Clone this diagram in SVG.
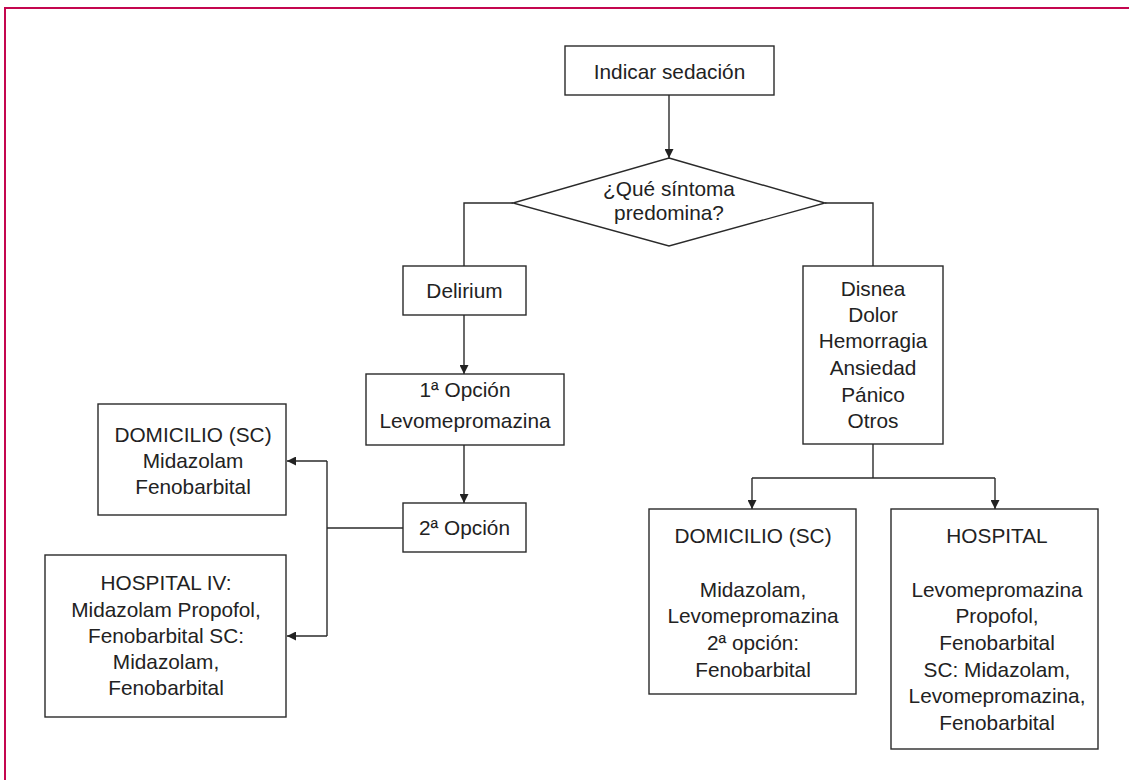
<svg xmlns="http://www.w3.org/2000/svg" width="1129" height="780" viewBox="0 0 1129 780">
<style>
.box{fill:#fff;stroke:#2a2a2a;stroke-width:1.4}
.ln{fill:none;stroke:#2a2a2a;stroke-width:1.4}
.t{font-family:"Liberation Sans",Arial,sans-serif;font-size:20.8px;fill:#222;text-anchor:middle}
.frame{fill:none;stroke:#c4064f;stroke-width:2}
</style>
<defs>
<marker id="ah" viewBox="0 0 10 10" refX="10" refY="5" markerWidth="9" markerHeight="9" markerUnits="userSpaceOnUse" orient="auto">
<path d="M0,0 L10,5 L0,10 Z" fill="#222"/>
</marker>
</defs>
<rect width="1129" height="780" fill="#fff"/>
<path class="frame" d="M5,780 V8 H1129"/>
<g id="connectors">
<line class="ln" x1="669" y1="95" x2="669" y2="158" marker-end="url(#ah)"/>
<polyline class="ln" points="513,203 464,203 464,266"/>
<polyline class="ln" points="825,203 873,203 873,266"/>
<line class="ln" x1="464" y1="315" x2="464" y2="374" marker-end="url(#ah)"/>
<line class="ln" x1="464" y1="445" x2="464" y2="503" marker-end="url(#ah)"/>
<line class="ln" x1="403" y1="528" x2="327" y2="528"/>
<line class="ln" x1="327" y1="461" x2="327" y2="636"/>
<line class="ln" x1="327" y1="461" x2="287" y2="461" marker-end="url(#ah)"/>
<line class="ln" x1="327" y1="636" x2="287" y2="636" marker-end="url(#ah)"/>
<line class="ln" x1="873" y1="444" x2="873" y2="478"/>
<line class="ln" x1="752" y1="478" x2="995" y2="478"/>
<line class="ln" x1="752" y1="478" x2="752" y2="509" marker-end="url(#ah)"/>
<line class="ln" x1="995" y1="478" x2="995" y2="509" marker-end="url(#ah)"/>
</g>
<g id="n-indicar">
<rect class="box" x="565" y="46" width="209" height="49"/>
<text class="t" x="669.5" y="79">Indicar sedación</text>
</g>
<g id="n-sintoma">
<polygon class="box" points="669,158 825,203 669,246 513,203"/>
<text class="t" x="669" y="196">¿Qué síntoma</text>
<text class="t" x="669" y="220">predomina?</text>
</g>
<g id="n-delirium">
<rect class="box" x="403" y="266" width="123" height="49"/>
<text class="t" x="464.5" y="298">Delirium</text>
</g>
<g id="n-sintomas">
<rect class="box" x="803" y="266" width="140" height="178"/>
<text class="t" x="873" y="296">Disnea</text>
<text class="t" x="873" y="322">Dolor</text>
<text class="t" x="873" y="348">Hemorragia</text>
<text class="t" x="873" y="375">Ansiedad</text>
<text class="t" x="873" y="402">Pánico</text>
<text class="t" x="873" y="428">Otros</text>
</g>
<g id="n-opcion1">
<rect class="box" x="366" y="374" width="198" height="71"/>
<text class="t" x="465" y="397">1ª Opción</text>
<text class="t" x="465" y="428">Levomepromazina</text>
</g>
<g id="n-opcion2">
<rect class="box" x="403" y="503" width="123" height="49"/>
<text class="t" x="464.5" y="535">2ª Opción</text>
</g>
<g id="n-domicilio-left">
<rect class="box" x="98" y="404" width="188" height="111"/>
<text class="t" x="193" y="442">DOMICILIO (SC)</text>
<text class="t" x="193" y="468">Midazolam</text>
<text class="t" x="193" y="494">Fenobarbital</text>
</g>
<g id="n-hospital-left">
<rect class="box" x="45" y="555" width="241" height="162"/>
<text class="t" x="166" y="590">HOSPITAL IV:</text>
<text class="t" x="166" y="617">Midazolam  Propofol,</text>
<text class="t" x="166" y="643">Fenobarbital SC:</text>
<text class="t" x="166" y="669">Midazolam,</text>
<text class="t" x="166" y="695">Fenobarbital</text>
</g>
<g id="n-domicilio-right">
<rect class="box" x="649" y="509" width="207" height="185"/>
<text class="t" x="753" y="543">DOMICILIO (SC)</text>
<text class="t" x="753" y="597">Midazolam,</text>
<text class="t" x="753" y="623">Levomepromazina</text>
<text class="t" x="753" y="650">2ª opción:</text>
<text class="t" x="753" y="677">Fenobarbital</text>
</g>
<g id="n-hospital-right">
<rect class="box" x="891" y="509" width="207" height="240"/>
<text class="t" x="997" y="543">HOSPITAL</text>
<text class="t" x="997" y="597">Levomepromazina</text>
<text class="t" x="997" y="623">Propofol,</text>
<text class="t" x="997" y="650">Fenobarbital</text>
<text class="t" x="997" y="677">SC: Midazolam,</text>
<text class="t" x="997" y="703">Levomepromazina,</text>
<text class="t" x="997" y="730">Fenobarbital</text>
</g>
</svg>
